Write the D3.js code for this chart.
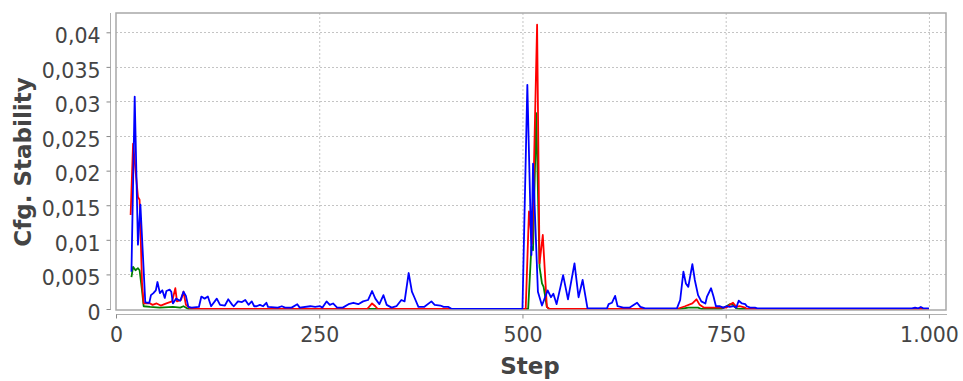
<!DOCTYPE html>
<html>
<head>
<meta charset="utf-8">
<script src="https://cdn.jsdelivr.net/npm/d3@7"></script>
<style>
  html, body { margin: 0; padding: 0; background: #fff; }
  svg { display: block; }
</style>
</head>
<body>
<svg id="chart" width="963" height="381"></svg>
<script>
// Tick values for both axes
const xTicks = [0, 250, 500, 750, 1000];
const yTicks = [0, 0.005, 0.01, 0.015, 0.02, 0.025, 0.03, 0.035, 0.04];

// Cfg. stability per step, one [step, value] list per run
const greenSeries = [
  [19, 0.0046], [21, 0.0061], [24, 0.0056], [27, 0.0059], [29, 0.0056], [32, 0.0027],
  [34, 0.0004], [42, 0.0003], [54, 0.0002], [70, 0.0003], [79, 0.0002], [83, 0.0004],
  [89, 0], [507, 0], [511, 0.009], [513, 0.0085], [517, 0.0283], [521, 0.0061],
  [524, 0.0037], [526, 0.0032], [530, 0.0003], [533, 0], [694, 0], [704, 0.0002],
  [716, 0.0002], [720, 0], [745, 0], [751, 0.0004], [755, 0.0007], [759, 0.0006],
  [763, 0.0001], [766, 0], [1000, 0]
];

const redSeries = [
  [18, 0.0136], [21, 0.0239], [27, 0.0162], [29, 0.0158], [32, 0.0038], [34, 0.0008],
  [42, 0.0008], [45, 0.0006], [50, 0.0008], [55, 0.0005], [62, 0.0008], [69, 0.0011],
  [73, 0.003], [75, 0.0011], [80, 0.0013], [83, 0.0025], [86, 0.0006], [91, 0.0001],
  [95, 0], [309, 0], [315, 0.0008], [319, 0.0004], [322, 0], [504, 0], [508, 0.0141],
  [512, 0.0095], [518, 0.0411], [521, 0.0066], [525, 0.0107], [530, 0.0003], [533, 0],
  [690, 0], [700, 0.0004], [709, 0.0008], [714, 0.0014], [718, 0.0006], [723, 0.0002],
  [743, 0.0002], [751, 0.0002], [755, 0.0006], [759, 0.0009], [763, 0.0003],
  [767, 0.0004], [774, 0.0002], [776, 0], [1000, 0]
];

const blueSeries = [
  [19, 0.0054], [23, 0.0307], [27, 0.0093], [30, 0.0151], [36, 0.001], [38, 0.0009],
  [41, 0.0009], [43, 0.002], [46, 0.0023], [49, 0.0027], [51, 0.0039], [54, 0.0023],
  [57, 0.0027], [60, 0.0016], [62, 0.0026], [66, 0.0028], [68, 0.0025], [70, 0.0008],
  [74, 0.0015], [77, 0.0013], [79, 0.0012], [83, 0.0025], [86, 0.0019], [89, 0.0003],
  [93, 0.0002], [102, 0.0003], [105, 0.0018], [109, 0.0015], [113, 0.0018], [117, 0.0004],
  [124, 0.0015], [128, 0.0006], [134, 0.0005], [138, 0.0014], [143, 0.0006], [145, 0.0004],
  [150, 0.0011], [155, 0.001], [159, 0.0013], [163, 0.0006], [167, 0.0011], [170, 0.0004],
  [173, 0.0004], [177, 0.0006], [181, 0.0004], [185, 0.0009], [187, 0.0003], [199, 0.0002],
  [204, 0.0004], [208, 0.0002], [216, 0.0002], [223, 0.0007], [226, 0.0002], [239, 0.0004],
  [245, 0.0003], [251, 0.0004], [254, 0.0002], [259, 0.0011], [263, 0.0006], [267, 0.0008],
  [272, 0.0002], [279, 0.0002], [286, 0.0007], [292, 0.0009], [298, 0.0007], [304, 0.0011],
  [310, 0.0013], [315, 0.0026], [319, 0.0015], [324, 0.0007], [329, 0.002], [333, 0.0006],
  [339, 0.0002], [345, 0.0004], [351, 0.0013], [355, 0.0011], [360, 0.0052], [364, 0.0025],
  [367, 0.0017], [372, 0.0003], [379, 0.0003], [388, 0.0011], [392, 0.0006], [399, 0.0005],
  [403, 0.0003], [409, 0.0003], [413, 0], [500, 0], [506, 0.0324], [511, 0.0078],
  [513, 0.021], [519, 0.0025], [524, 0.0005], [531, 0.0027], [535, 0.0017], [538, 0.0022],
  [542, 0.0007], [550, 0.0049], [556, 0.0014], [564, 0.0066], [569, 0.0017], [574, 0.0042],
  [580, 0.0001], [604, 0.0001], [606, 0.0007], [610, 0.0009], [614, 0.0019], [617, 0.0004],
  [624, 0.0002], [632, 0.0002], [641, 0.0009], [645, 0.0003], [651, 0.0001], [690, 0.0001],
  [694, 0.0013], [698, 0.0054], [701, 0.0037], [704, 0.0032], [709, 0.0065], [712, 0.0042],
  [716, 0.002], [720, 0.0011], [725, 0.0008], [727, 0.0018], [732, 0.003], [735, 0.0018],
  [738, 0.0004], [743, 0.0004], [747, 0.0002], [751, 0.0004], [755, 0.0003], [760, 0.0004],
  [763, 0.0002], [766, 0.0012], [770, 0.0008], [774, 0.0007], [776, 0.0004], [780, 0.0002],
  [786, 0.0002], [789, 0.0001], [979, 0.0001], [983, 0.0002], [987, 0.0001], [990, 0.0003],
  [993, 0.0001], [1000, 0.0001]
];

const seriesList = [
  { data: greenSeries, color: "#008000" },
  { data: redSeries, color: "#ff0000" },
  { data: blueSeries, color: "#0000ff" }
];

const plot = { left: 116, right: 946, top: 13, bottom: 309 };
const textColor = "#444444";
const tickFont = "DejaVu Sans, sans-serif";

const locale = d3.formatLocale({ decimal: ",", thousands: ".", grouping: [3], currency: ["", ""] });
const fmtX = locale.format(",d");
const fmtY = locale.format(",.3~f");

const x = d3.scaleLinear().domain([0, 1021]).range([plot.left, plot.right]);
const y = d3.scaleLinear().domain([0, 0.04279]).range([plot.bottom, plot.top]);

const svg = d3.select("#chart");

// Dashed grid lines
const grid = svg.append("g");
grid.selectAll("line.gx").data(xTicks.filter(d => d > 0)).join("line")
  .attr("x1", d => x(d) + 0.5).attr("x2", d => x(d) + 0.5)
  .attr("y1", plot.top).attr("y2", plot.bottom)
  .attr("stroke", "#c4c4c4").attr("stroke-width", 1).attr("stroke-dasharray", "2,2");
grid.selectAll("line.gy").data(yTicks.filter(d => d > 0)).join("line")
  .attr("x1", plot.left).attr("x2", plot.right)
  .attr("y1", d => Math.round(y(d)) + 0.5).attr("y2", d => Math.round(y(d)) + 0.5)
  .attr("stroke", "#c4c4c4").attr("stroke-width", 1).attr("stroke-dasharray", "2,2");

// Series lines
const lineGen = d3.line().x(d => x(d[0])).y(d => y(d[1]));
svg.append("clipPath").attr("id", "plotClip").append("rect")
  .attr("x", plot.left).attr("y", plot.top)
  .attr("width", plot.right - plot.left).attr("height", plot.bottom - plot.top + 2);
svg.append("g").attr("clip-path", "url(#plotClip)")
  .selectAll("path").data(seriesList).join("path")
  .attr("d", s => lineGen(s.data))
  .attr("fill", "none")
  .attr("stroke", s => s.color)
  .attr("stroke-width", 1.8)
  .attr("stroke-linejoin", "round");

// Plot frame
svg.append("rect")
  .attr("x", plot.left).attr("y", plot.top)
  .attr("width", plot.right - plot.left).attr("height", plot.bottom - plot.top + 1)
  .attr("fill", "none").attr("stroke", "#a8a8a8").attr("stroke-width", 1.5);

// Y axis, offset to the left of the frame
const yAxis = d3.axisLeft(y).tickValues(yTicks).tickFormat(fmtY).tickSize(4).tickPadding(6);
const gy = svg.append("g").attr("transform", `translate(${plot.left - 5.5},0)`).call(yAxis);
gy.select(".domain").attr("stroke", "#b0b0b0").attr("d", `M0,${plot.top}V${plot.bottom + 1}`);
gy.selectAll(".tick line").attr("stroke", "#888");
gy.selectAll(".tick text")
  .attr("fill", textColor).attr("font-family", tickFont).attr("font-size", 20.5)
  .attr("dy", "0.5em");

// X axis, offset below the frame
const xAxis = d3.axisBottom(x).tickValues(xTicks).tickFormat(fmtX).tickSize(4).tickPadding(9);
const gx = svg.append("g").attr("transform", `translate(0,${plot.bottom + 5.5})`).call(xAxis);
gx.select(".domain").attr("stroke", "#b0b0b0").attr("d", `M${plot.left},0H${plot.right + 1}`);
gx.selectAll(".tick line").attr("stroke", "#888");
gx.selectAll(".tick text")
  .attr("fill", textColor).attr("font-family", tickFont).attr("font-size", 20.5);
svg.selectAll(".tick text").attr("font-family", tickFont);

// Axis titles
svg.append("text")
  .attr("x", (plot.left + plot.right) / 2 - 1).attr("y", 374)
  .attr("text-anchor", "middle")
  .attr("font-family", tickFont).attr("font-weight", "bold").attr("font-size", 23)
  .attr("fill", textColor).text("Step");
svg.append("text")
  .attr("transform", "translate(31,162) rotate(-90)")
  .attr("text-anchor", "middle")
  .attr("font-family", tickFont).attr("font-weight", "bold").attr("font-size", 23)
  .attr("fill", textColor).text("Cfg. Stability");
</script>
</body>
</html>
